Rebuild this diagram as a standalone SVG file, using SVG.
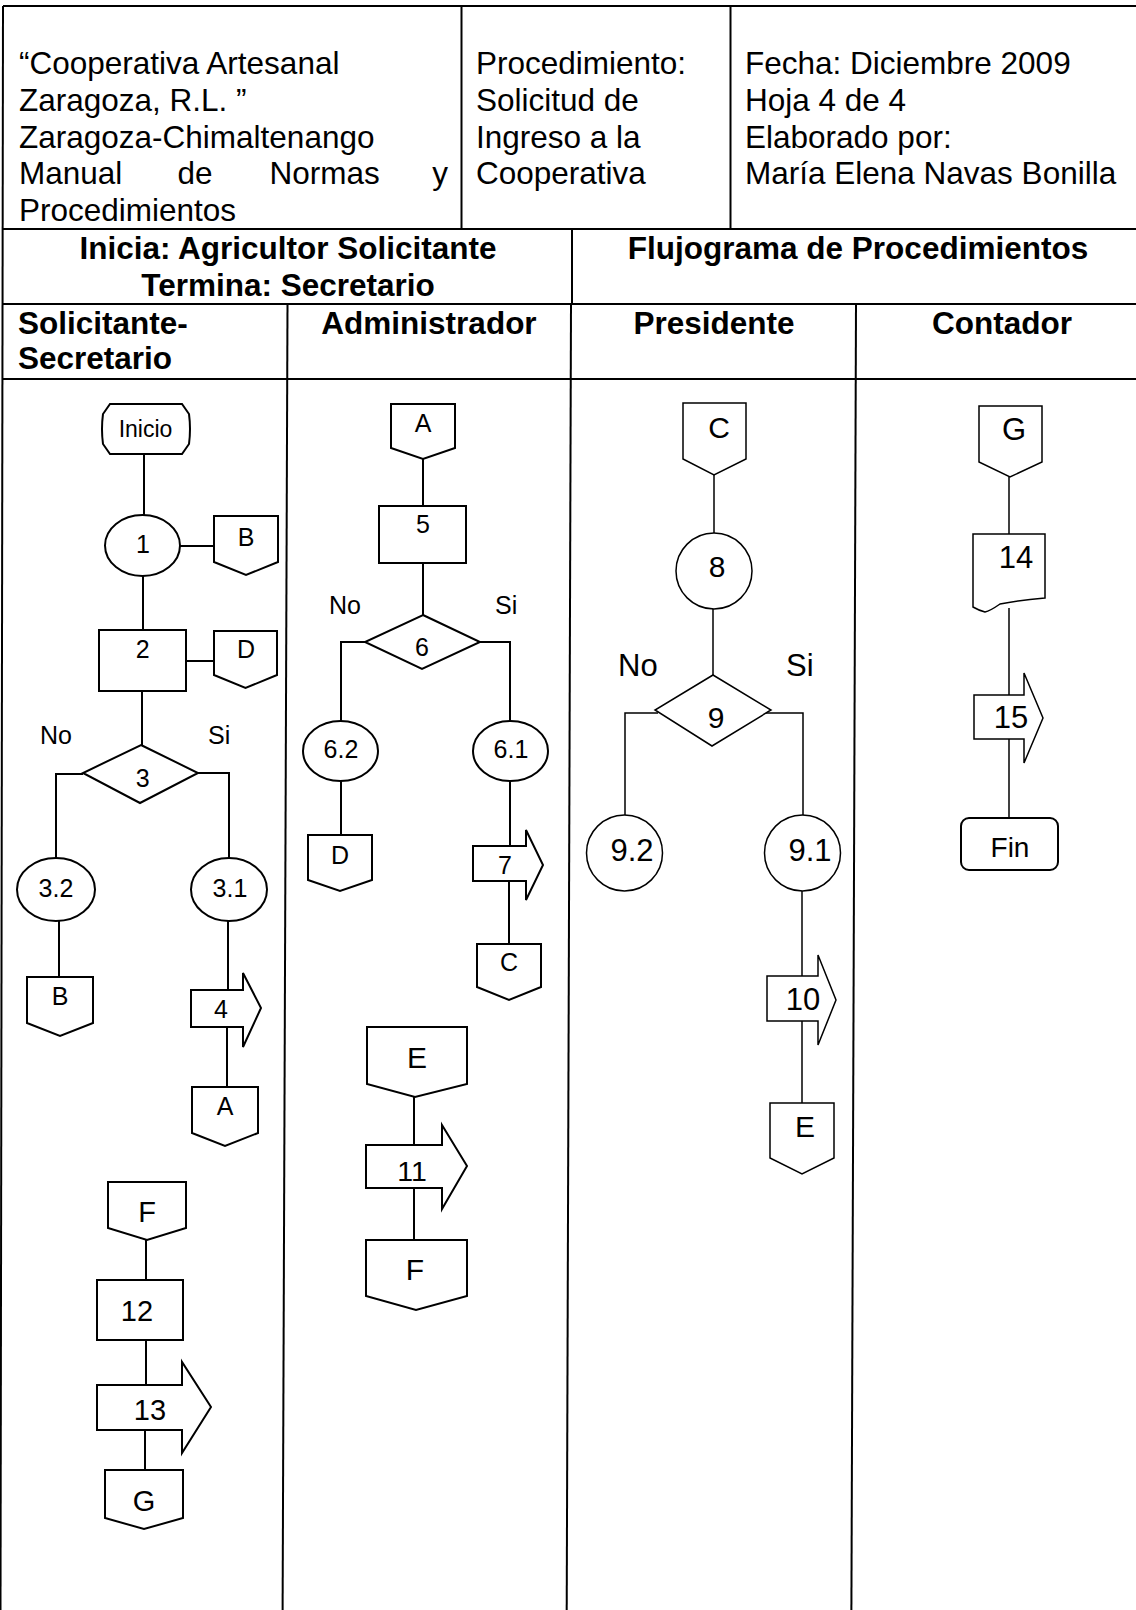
<svg xmlns="http://www.w3.org/2000/svg" width="1136" height="1610" viewBox="0 0 1136 1610">
<style>
text{font-family:"Liberation Sans",Arial,sans-serif;fill:#000}
.h{font-size:31.5px}
.hb{font-size:31.5px;font-weight:bold}
.c{text-anchor:middle}
.tbl line{stroke:#000;stroke-width:2}
.s{fill:#fff;stroke:#000;stroke-width:2}
.t{fill:#fff;stroke:#000;stroke-width:1.5}
.cn line,.cn polyline{fill:none;stroke:#000;stroke-width:2}
.cn .thin{stroke-width:1.5}
.f25{font-size:25px}
.f28{font-size:28px}
.f30{font-size:30px}
</style>
<rect width="1136" height="1610" fill="#fff"/>
<g id="table" class="tbl">
<line x1="3" y1="6" x2="1136" y2="6"/>
<line x1="3" y1="6" x2="0.5" y2="1610"/>
<line x1="461.5" y1="6" x2="461.5" y2="229"/>
<line x1="730.5" y1="6" x2="730.5" y2="229"/>
<line x1="3" y1="229" x2="1136" y2="229"/>
<line x1="572" y1="229" x2="572" y2="304"/>
<line x1="3" y1="304" x2="1136" y2="304"/>
<line x1="3" y1="379" x2="1136" y2="379"/>
<line x1="287.5" y1="304" x2="282.6" y2="1610"/>
<line x1="571" y1="304" x2="566.7" y2="1610"/>
<line x1="856" y1="304" x2="851.4" y2="1610"/>
</g>
<g id="header">
<text class="h" x="19" y="74">“Cooperativa Artesanal</text>
<text class="h" x="19" y="111">Zaragoza, R.L. ”</text>
<text class="h" x="19" y="147.5">Zaragoza-Chimaltenango</text>
<text class="h" x="19" y="184">Manual</text>
<text class="h" x="177.5" y="184">de</text>
<text class="h" x="269.6" y="184">Normas</text>
<text class="h" x="448" y="184" text-anchor="end">y</text>
<text class="h" x="19" y="221">Procedimientos</text>
<text class="h" x="476" y="74">Procedimiento:</text>
<text class="h" x="476" y="111">Solicitud de</text>
<text class="h" x="476" y="147.5">Ingreso a la</text>
<text class="h" x="476" y="184">Cooperativa</text>
<text class="h" x="745" y="74">Fecha: Diciembre 2009</text>
<text class="h" x="745" y="111">Hoja 4 de 4</text>
<text class="h" x="745" y="147.5">Elaborado por:</text>
<text class="h" x="745" y="184">María Elena Navas Bonilla</text>
<text class="hb c" x="288" y="259">Inicia: Agricultor Solicitante</text>
<text class="hb c" x="288" y="296">Termina: Secretario</text>
<text class="hb c" x="858" y="259">Flujograma de Procedimientos</text>
<text class="hb" x="18" y="334">Solicitante-</text>
<text class="hb" x="18" y="369">Secretario</text>
<text class="hb c" x="429" y="334">Administrador</text>
<text class="hb c" x="714" y="334">Presidente</text>
<text class="hb c" x="1002" y="334">Contador</text>
</g>
<g id="connectors" class="cn">
<line x1="144" y1="454" x2="144" y2="515"/>
<line x1="180" y1="546" x2="214" y2="546"/>
<line x1="143" y1="576" x2="143" y2="630"/>
<line x1="186" y1="661" x2="214" y2="661"/>
<line x1="142" y1="691" x2="142" y2="745"/>
<polyline points="83,774 56,774 56,858"/>
<polyline points="198,773 229,773 229,858"/>
<line x1="59" y1="921" x2="59" y2="977"/>
<line x1="228" y1="921" x2="228" y2="990"/>
<line x1="227" y1="1027" x2="227" y2="1087"/>
<line x1="146" y1="1240" x2="146" y2="1280"/>
<line x1="146" y1="1340" x2="146" y2="1385"/>
<line x1="145" y1="1430" x2="145" y2="1470"/>
<line x1="423" y1="459" x2="423" y2="506"/>
<line x1="423" y1="563" x2="423" y2="615"/>
<polyline points="365,642 341,642 341,722"/>
<polyline points="480,642 510,642 510,722"/>
<line x1="341" y1="781" x2="341" y2="835"/>
<line x1="510" y1="781" x2="510" y2="846"/>
<line x1="509" y1="881" x2="509" y2="944"/>
<line x1="414" y1="1097" x2="414" y2="1145"/>
<line x1="414" y1="1188" x2="414" y2="1240"/>
<line class="thin" x1="714" y1="475" x2="714" y2="533"/>
<line class="thin" x1="713" y1="609" x2="713" y2="675"/>
<polyline class="thin" points="658,713 625,713 625,815"/>
<polyline class="thin" points="766,713 803,713 803,815"/>
<line class="thin" x1="802" y1="891" x2="802" y2="976"/>
<line class="thin" x1="802" y1="1021" x2="802" y2="1103"/>
<line class="thin" x1="1009" y1="477" x2="1009" y2="534"/>
<line class="thin" x1="1009" y1="608" x2="1009" y2="695"/>
<line class="thin" x1="1009" y1="739" x2="1009" y2="818"/>
</g>
<g id="n-inicio"><path class="s" d="M110,404 H182 L189,414 Q191,429 189,444 L182,454 H110 L103,444 Q101,429 103,414 Z"/><text class="c" x="145.5" y="437" font-size="23">Inicio</text></g>
<g id="n-1"><ellipse class="s" cx="142.5" cy="545.5" rx="37.5" ry="30.5"/><text class="c f25" x="143" y="553">1</text></g>
<g id="n-B1"><polygon class="s" points="214,516 278,516 278,562 246,575 214,562"/><text class="c f25" x="246" y="546">B</text></g>
<g id="n-2"><rect class="s" x="99" y="630" width="87" height="61"/><text class="c f25" x="142.7" y="658">2</text></g>
<g id="n-D1"><polygon class="s" points="214,631 277,631 277,675 245.5,688 214,675"/><text class="c f25" x="246" y="658">D</text></g>
<g id="l-3"><text class="f25" x="40" y="744">No</text><text class="f25" x="208" y="744">Si</text></g>
<g id="n-3"><polygon class="s" points="141,745 198,773 140,803 83,773"/><text class="c f25" x="142.7" y="787">3</text></g>
<g id="n-3-2"><ellipse class="s" cx="56" cy="889.5" rx="39" ry="31.5"/><text class="c f25" x="56" y="897">3.2</text></g>
<g id="n-3-1"><ellipse class="s" cx="229" cy="889.5" rx="38" ry="31.5"/><text class="c f25" x="230" y="897">3.1</text></g>
<g id="n-B2"><polygon class="s" points="27,977 93,977 93,1023 60,1036 27,1023"/><text class="c f25" x="60" y="1005">B</text></g>
<g id="n-4"><path class="s" d="M191,990 H243 V973 L261,1008 L243,1047 V1027 H191 Z"/><text class="c f25" x="221" y="1018">4</text></g>
<g id="n-A1"><polygon class="s" points="192,1087 258,1087 258,1133 225,1146 192,1133"/><text class="c f25" x="225" y="1115">A</text></g>
<g id="n-F1"><polygon class="s" points="108,1182 186,1182 186,1228 147,1240 108,1228"/><text class="c" font-size="29" x="147" y="1222">F</text></g>
<g id="n-12"><rect class="s" x="97" y="1280" width="86" height="60"/><text class="c" font-size="29" x="137" y="1321">12</text></g>
<g id="n-13"><path class="s" d="M97,1385 H182 V1362 L211,1407 L182,1453 V1430 H97 Z"/><text class="c" font-size="29" x="150" y="1420">13</text></g>
<g id="n-G1"><polygon class="s" points="105,1470 183,1470 183,1518 144,1529 105,1518"/><text class="c" font-size="29" x="144" y="1511">G</text></g>
<g id="n-A2"><polygon class="s" points="391,404 455,404 455,448 423,459 391,448"/><text class="c f25" x="423" y="432">A</text></g>
<g id="n-5"><rect class="s" x="379" y="506" width="87" height="57"/><text class="c f25" x="423" y="533">5</text></g>
<g id="l-6"><text class="f25" x="329" y="614">No</text><text class="f25" x="495" y="614">Si</text></g>
<g id="n-6"><polygon class="s" points="423,615 480,642 422,669 365,642"/><text class="c f25" x="422" y="656">6</text></g>
<g id="n-6-2"><ellipse class="s" cx="340.5" cy="751" rx="37.5" ry="30"/><text class="c f25" x="341" y="758">6.2</text></g>
<g id="n-6-1"><ellipse class="s" cx="510.5" cy="751" rx="37.5" ry="30"/><text class="c f25" x="511" y="758">6.1</text></g>
<g id="n-D2"><polygon class="s" points="308,835 372,835 372,880 340,891 308,880"/><text class="c f25" x="340" y="864">D</text></g>
<g id="n-7"><path class="s" d="M473,846 H526 V830 L543,865 L526,900 V881 H473 Z"/><text class="c f25" x="505" y="874">7</text></g>
<g id="n-C2"><polygon class="s" points="477,944 541,944 541,987 509,1000 477,987"/><text class="c f25" x="509" y="971">C</text></g>
<g id="n-E2"><polygon class="s" points="367,1027 467,1027 467,1084 415,1097 367,1084"/><text class="c f30" x="417" y="1068">E</text></g>
<g id="n-11"><path class="s" d="M366,1145 H442 V1125 L467,1166 L442,1209 V1188 H366 Z"/><text class="c" font-size="28.5" x="412" y="1181">11</text></g>
<g id="n-F2"><polygon class="s" points="366,1240 467,1240 467,1296 416,1310 366,1296"/><text class="c f30" x="415" y="1280">F</text></g>
<g id="n-C3"><polygon class="t" points="683,403 746,403 746,459 714,475 683,459"/><text class="c f30" x="719" y="438">C</text></g>
<g id="n-8"><circle class="t" cx="714" cy="571" r="38"/><text class="c f30" x="717" y="577">8</text></g>
<g id="l-9"><text font-size="31" x="618" y="676">No</text><text font-size="31" x="786" y="676">Si</text></g>
<g id="n-9"><polygon class="t" points="713,675 771,710 712,746 655,710"/><text class="c f30" x="716" y="728">9</text></g>
<g id="n-9-2"><circle class="t" cx="624.5" cy="853" r="38"/><text class="c" font-size="31" x="632" y="861">9.2</text></g>
<g id="n-9-1"><circle class="t" cx="802.5" cy="853" r="38"/><text class="c" font-size="31" x="810" y="861">9.1</text></g>
<g id="n-10"><path class="t" d="M767,976 H818 V955 L836,1000 L818,1045 V1021 H767 Z"/><text class="c" font-size="31" x="803" y="1010">10</text></g>
<g id="n-E3"><polygon class="t" points="770,1103 834,1103 834,1158 802,1174 770,1158"/><text class="c f30" x="805" y="1137">E</text></g>
<g id="n-G4"><polygon class="t" points="979,406 1042,406 1042,462 1010,477 979,462"/><text class="c" font-size="31" x="1014" y="440">G</text></g>
<g id="n-14"><path class="t" d="M973,534 H1045 V598 Q1020,600 1000,604 Q990,611 985,612 Q978,610 973,607 Z"/><text class="c" font-size="31" x="1016" y="568">14</text></g>
<g id="n-15"><path class="t" d="M974,695 H1024 V673 L1043,718 L1024,763 V739 H974 Z"/><text class="c" font-size="31" x="1011" y="728">15</text></g>
<g id="n-fin"><rect class="s" x="961" y="818" width="97" height="52" rx="8"/><text class="c f28" x="1010" y="857">Fin</text></g>
</svg>
